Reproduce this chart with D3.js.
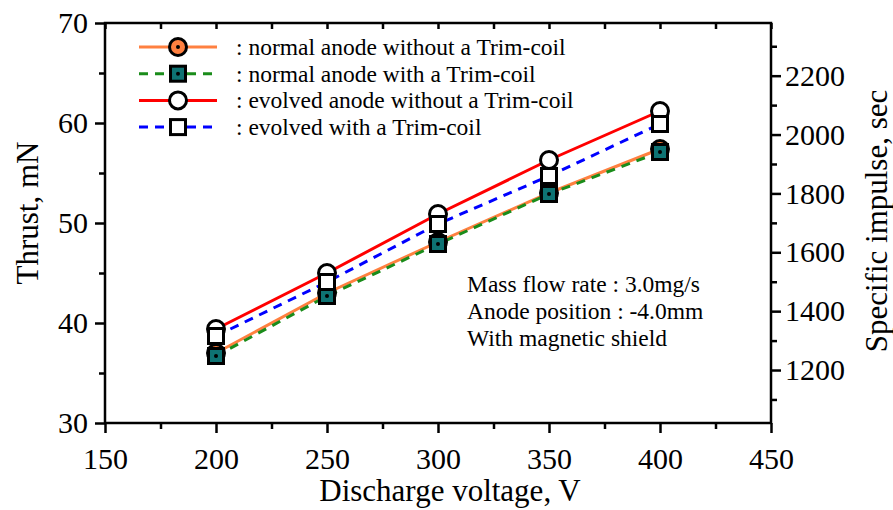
<!DOCTYPE html>
<html>
<head>
<meta charset="utf-8">
<script src="https://cdn.jsdelivr.net/npm/d3@7"></script>
<style>
  html, body { margin: 0; padding: 0; background: #fff; }
  svg { display: block; font-family: "Liberation Serif", "Times New Roman", serif; }
</style>
</head>
<body>
<svg id="chart" width="893" height="510"></svg>
<script>
// Discharge voltage (V)
const voltages = [200, 250, 300, 350, 400];

// Thrust (mN) per configuration
const normalNoTrim  = [37.0, 43.0, 48.1, 53.0, 57.4];
const normalTrim    = [36.7, 42.7, 47.9, 52.9, 57.1];
const evolvedNoTrim = [39.4, 45.0, 50.9, 56.3, 61.2];
const evolvedTrim   = [38.7, 44.1, 49.9, 54.7, 59.9];

const seriesNames = [
  ": normal anode without a Trim-coil",
  ": normal anode with a Trim-coil",
  ": evolved anode without a Trim-coil",
  ": evolved with a Trim-coil"
];

// Axis ticks
const xTicks = [150, 200, 250, 300, 350, 400, 450];
const xMinorTicks = [175, 225, 275, 325, 375, 425];
const yTicks = [30, 40, 50, 60, 70];
const yMinorTicks = [35, 45, 55, 65];
const ispTicks = [1200, 1400, 1600, 1800, 2000, 2200];
const ispMinorTicks = [1100, 1300, 1500, 1700, 1900, 2100, 2300];

const notes = [
  "Mass flow rate : 3.0mg/s",
  "Anode position : -4.0mm",
  "With magnetic shield"
];

const svg = d3.select("#chart");
const L = 105, R = 771, T = 23, B = 423;

const x = d3.scaleLinear().domain([150, 450]).range([L, R]);
const y = d3.scaleLinear().domain([30, 70]).range([B, T]);
// Specific impulse axis, proportional to thrust at 3.0 mg/s
const yIsp = d3.scaleLinear().domain([1020, 2379]).range([B, T]);

const tickFont = 30;

function styleAxis(g) {
  g.selectAll("path, line").attr("stroke", "#000").attr("stroke-width", 2.5);
  g.selectAll("text").attr("font-size", tickFont).attr("fill", "#000")
    .attr("font-family", "Liberation Serif, serif");
}

// Frame
svg.append("rect").attr("x", L).attr("y", T).attr("width", R - L).attr("height", B - T)
  .attr("fill", "none").attr("stroke", "#000").attr("stroke-width", 2.5);

// Bottom axis
svg.append("g").attr("transform", `translate(0,${B})`)
  .call(d3.axisBottom(x).tickValues(xTicks).tickSize(10).tickPadding(15).tickFormat(d3.format("d")))
  .call(styleAxis).call(g => g.select(".domain").remove());
svg.append("g").attr("transform", `translate(0,${B})`)
  .call(d3.axisBottom(x).tickValues(xMinorTicks).tickSize(6).tickFormat(""))
  .call(styleAxis).call(g => g.select(".domain").remove());

// Top axis: inward ticks
svg.append("g").attr("transform", `translate(0,${T})`)
  .call(d3.axisTop(x).tickValues(xTicks.concat(xMinorTicks)).tickSize(-6).tickFormat(""))
  .call(styleAxis).call(g => g.select(".domain").remove());

// Left axis
svg.append("g").attr("transform", `translate(${L},0)`)
  .call(d3.axisLeft(y).tickValues(yTicks).tickSize(10).tickPadding(7).tickFormat(d3.format("d")))
  .call(styleAxis).call(g => g.select(".domain").remove());
svg.append("g").attr("transform", `translate(${L},0)`)
  .call(d3.axisLeft(y).tickValues(yMinorTicks).tickSize(6).tickFormat(""))
  .call(styleAxis).call(g => g.select(".domain").remove());

// Right axis (specific impulse)
svg.append("g").attr("transform", `translate(${R},0)`)
  .call(d3.axisRight(yIsp).tickValues(ispTicks).tickSize(10).tickPadding(4).tickFormat(d3.format("d")))
  .call(styleAxis).call(g => g.select(".domain").remove());
svg.append("g").attr("transform", `translate(${R},0)`)
  .call(d3.axisRight(yIsp).tickValues(ispMinorTicks).tickSize(6).tickFormat(""))
  .call(styleAxis).call(g => g.select(".domain").remove());

// Axis titles
svg.append("text").attr("x", (L + R) / 2 + 12).attr("y", 501).attr("text-anchor", "middle")
  .attr("font-size", 31).text("Discharge voltage, V");
svg.append("text").attr("transform", `translate(38,${(T + B) / 2 - 10}) rotate(-90)`)
  .attr("text-anchor", "middle").attr("font-size", 31).text("Thrust, mN");
svg.append("text").attr("transform", `translate(880,${(T + B) / 2 - 2}) rotate(-90)`)
  .attr("text-anchor", "middle").attr("dominant-baseline", "middle")
  .attr("font-size", 31).text("Specific impulse, sec");

// Series definitions
const series = [
  { name: seriesNames[0], values: normalNoTrim,  line: "#ff8040", dash: null,  marker: "circle", fill: "#ff8040", dot: true },
  { name: seriesNames[1], values: normalTrim,    line: "#1a8c1a", dash: "9,7", marker: "square", fill: "#0e7373", dot: true },
  { name: seriesNames[2], values: evolvedNoTrim, line: "#ff0000", dash: null,  marker: "circle", fill: "#ffffff", dot: false },
  { name: seriesNames[3], values: evolvedTrim,   line: "#0000ff", dash: "9,7", marker: "square", fill: "#ffffff", dot: false }
];

const lineGen = d3.line().x((d, i) => x(voltages[i])).y(d => y(d));

function drawMarker(g, s, cx, cy) {
  if (s.marker === "circle") {
    g.append("circle").attr("cx", cx).attr("cy", cy).attr("r", 8.5)
      .attr("fill", s.fill).attr("stroke", "#000").attr("stroke-width", 3);
  } else {
    g.append("rect").attr("x", cx - 7.5).attr("y", cy - 7.5).attr("width", 15).attr("height", 15)
      .attr("fill", s.fill).attr("stroke", "#000").attr("stroke-width", 3);
  }
  if (s.dot) {
    g.append("circle").attr("cx", cx).attr("cy", cy).attr("r", 2).attr("fill", "#000");
  }
}

// Lines
series.forEach(s => {
  svg.append("path").datum(s.values).attr("d", lineGen)
    .attr("fill", "none").attr("stroke", s.line).attr("stroke-width", 3)
    .attr("stroke-dasharray", s.dash);
});

// Markers
const markerLayer = svg.append("g");
series.forEach(s => {
  s.values.forEach((v, i) => drawMarker(markerLayer, s, x(voltages[i]), y(v)));
});

// Legend
const legend = svg.append("g");
const legY0 = 47, legStep = 26.7, legX1 = 139, legX2 = 217, legMid = 178;
series.forEach((s, i) => {
  const ly = legY0 + i * legStep;
  legend.append("line").attr("x1", legX1).attr("x2", legX2).attr("y1", ly).attr("y2", ly)
    .attr("stroke", s.line).attr("stroke-width", 3).attr("stroke-dasharray", s.dash);
  drawMarker(legend, s, legMid, ly);
  legend.append("text").attr("x", 236).attr("y", ly).attr("dominant-baseline", "central")
    .attr("font-size", 23.5).text(s.name);
});

// Operating conditions note
notes.forEach((t, i) => {
  svg.append("text").attr("x", 467).attr("y", 284 + i * 27).attr("dominant-baseline", "central")
    .attr("font-size", 23.5).text(t);
});
</script>
</body>
</html>
